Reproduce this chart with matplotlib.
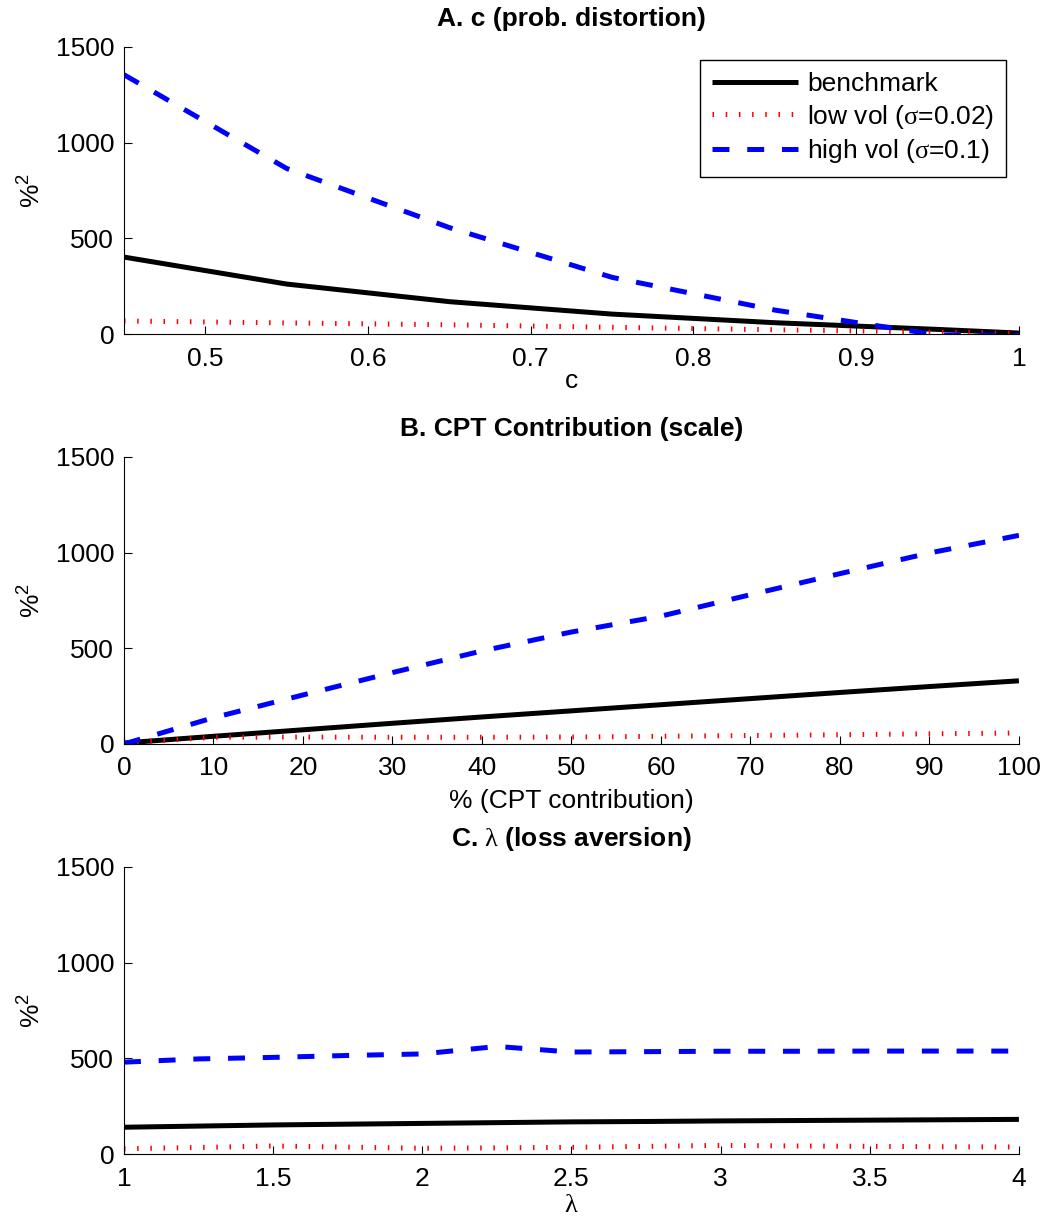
import matplotlib
matplotlib.use('Agg')
import matplotlib.pyplot as plt

plt.rcParams['font.family'] = ['Liberation Sans', 'DejaVu Sans']
plt.rcParams['mathtext.fontset'] = 'custom'
plt.rcParams['mathtext.rm'] = 'Liberation Serif'
plt.rcParams['mathtext.sf'] = 'Liberation Sans'
plt.rcParams['lines.scale_dashes'] = False

# panel A: probability distortion c
c_vals = [0.45, 0.55, 0.65, 0.75, 0.85, 0.95, 1.0]
a_bench = [402, 261, 169, 104, 59, 24, 5]
a_low = [68, 58, 48, 35, 22, 10, 3]
a_high = [1355, 865, 556, 296, 125, -5, -8]

# panel B: CPT contribution (scale)
cpt_vals = [0, 10, 20, 30, 40, 50, 60, 70, 80, 90, 100]
b_bench = [5, 40, 74, 108, 141, 173, 205, 237, 269, 300, 330]
b_low = [5, 35, 36, 35, 35, 36, 40, 44, 48, 53, 57]
b_high = [0, 137, 256, 373, 486, 585, 668, 780, 890, 998, 1090]

# panel C: loss aversion lambda
lam_vals = [1.0, 1.25, 1.5, 1.75, 2.0, 2.25, 2.5, 2.75, 3.0, 3.25, 3.5, 3.75, 4.0]
c_bench = [140, 146, 152, 156, 160, 164, 168, 170, 173, 175, 177, 179, 181]
c_low = [28, 34, 42, 36, 30, 32, 35, 40, 45, 42, 40, 38, 37]
c_high = [480, 497, 505, 515, 523, 562, 533, 535, 537, 537, 538, 538, 538]

titles = ['A. c (prob. distortion)', 'B. CPT Contribution (scale)',
          r'C. $\mathrm{\lambda}$ (loss aversion)']
xlabels = ['c', '% (CPT contribution)', r'$\mathrm{\lambda}$']
legend_labels = ['benchmark', r'low vol ($\mathrm{\sigma}$=0.02)',
                 r'high vol ($\mathrm{\sigma}$=0.1)']

fs = 19
lw = 3.6

fig = plt.figure(figsize=(10.46, 12.23), dpi=100)
positions = [[0.1185, 0.7269, 0.8556, 0.2347],
             [0.1185, 0.3917, 0.8556, 0.2347],
             [0.1185, 0.0564, 0.8556, 0.2347]]
xlabel_pads = [-1, 6, 2]

panels = [
    (c_vals, a_bench, a_low, a_high, (0.45, 1.0), [0.5, 0.6, 0.7, 0.8, 0.9, 1.0], ['0.5', '0.6', '0.7', '0.8', '0.9', '1']),
    (cpt_vals, b_bench, b_low, b_high, (0, 100), list(range(0, 101, 10)), [str(v) for v in range(0, 101, 10)]),
    (lam_vals, c_bench, c_low, c_high, (1, 4), [1, 1.5, 2, 2.5, 3, 3.5, 4], ['1', '1.5', '2', '2.5', '3', '3.5', '4']),
]

for i, (x, bench, low, high, xlim, xt, xtl) in enumerate(panels):
    ax = fig.add_axes(positions[i])
    ax.plot(x, bench, color='black', lw=lw, solid_capstyle='butt', label=legend_labels[0])
    ax.plot(x, low, color='red', lw=lw, linestyle=(0, (1.1, 8.4)),
            dash_capstyle='butt', label=legend_labels[1])
    ax.plot(x, high, color='blue', lw=lw, linestyle=(0, (12.2, 12.8)),
            dash_capstyle='butt', label=legend_labels[2])

    ax.set_xlim(*xlim)
    ax.set_ylim(0, 1500)
    ax.set_xticks(xt)
    ax.set_xticklabels(xtl)
    ax.set_yticks([0, 500, 1000, 1500])
    ax.set_yticklabels(['0', '500', '1000', '1500'])
    ax.tick_params(direction='in', length=6, width=0.8, labelsize=fs)
    ax.tick_params(axis='x', pad=9)
    ax.tick_params(axis='y', pad=7)
    for side in ['top', 'right']:
        ax.spines[side].set_visible(False)
    for side in ['left', 'bottom']:
        ax.spines[side].set_linewidth(0.8)

    ax.set_title(titles[i], fontsize=fs, fontweight='bold', pad=15)
    ax.set_xlabel(xlabels[i], fontsize=fs, labelpad=xlabel_pads[i])
    ax.set_ylabel(r'%$^{\mathsf{2}}$', fontsize=fs, labelpad=8)

    if i == 0:
        leg = ax.legend(loc='upper right', fontsize=fs, frameon=True, fancybox=False,
                        edgecolor='black', framealpha=1, handlelength=3.26,
                        labelspacing=0.25, borderaxespad=0.5, handletextpad=0.34,
                        borderpad=0.45)
        leg.get_frame().set_linewidth(1.0)

fig.savefig('out.png', dpi=100)
